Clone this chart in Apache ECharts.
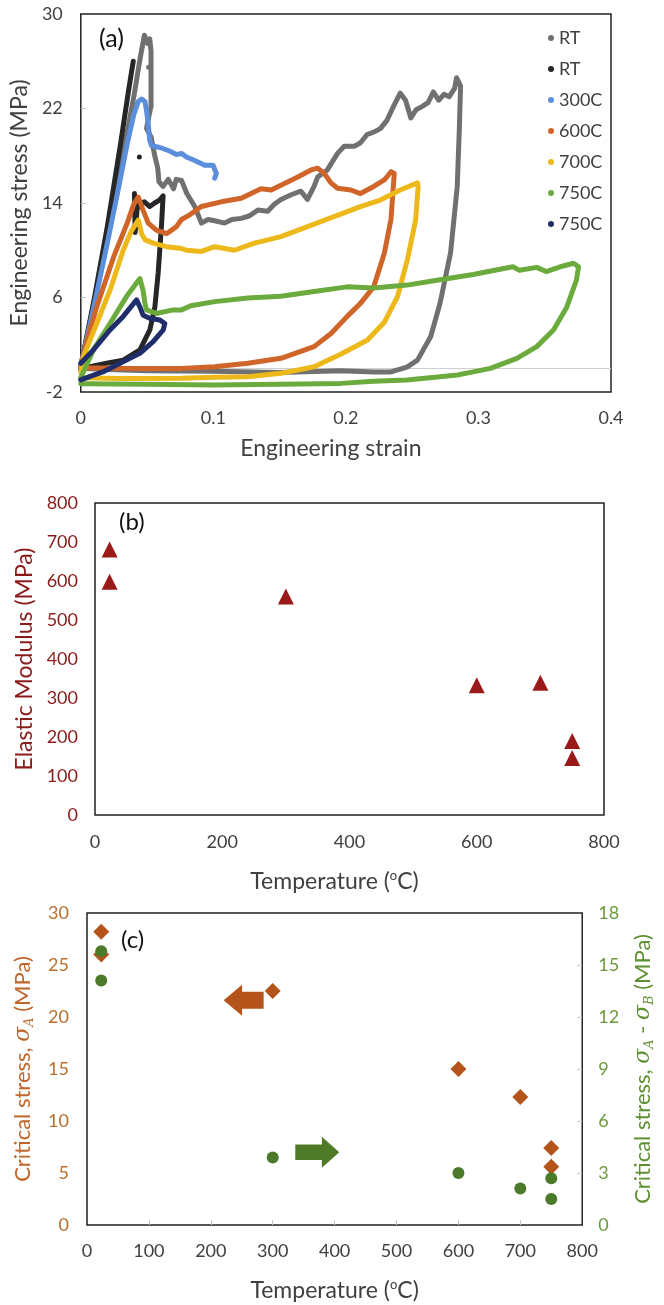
<!DOCTYPE html>
<html><head><meta charset="utf-8">
<script src="https://cdn.jsdelivr.net/npm/echarts@6/dist/echarts.min.js"></script>
<style>html,body{margin:0;padding:0;background:#fff}#c{width:664px;height:1305px}</style>
</head><body><div id="c"></div>
<script>
// ---------- Panel (a): stress-strain loops ----------
const strainTicks = [0, 0.1, 0.2, 0.3, 0.4];
const stressTicks = [-2, 6, 14, 22, 30];
const seriesNamesA = ['RT#1', 'RT#2', '300C', '600C', '700C', '750C#1', '750C#2'];
const rtGray = [[0,0.2],[0.01,5.6],[0.02,11.2],[0.03,17],[0.04,23],[0.045,26.4],[0.048,28.2],[0.0505,27.5],[0.052,27.9],[0.053,26.9],
  [0.053,22.2],[0.0515,21.4],[0.0496,20.3],[0.053,19.6],[0.056,17.9],[0.058,17.0],[0.059,15.8],[0.062,15.4],[0.066,16.0],[0.07,15.2],[0.072,16.0],[0.076,15.9],[0.08,14.8],[0.086,13.7],[0.091,12.3],[0.096,12.6],[0.101,12.5],[0.1085,12.3],[0.114,12.6],[0.121,12.7],[0.127,12.9],[0.1336,13.4],[0.141,13.3],[0.146,13.9],[0.151,14.3],[0.1587,14.7],[0.166,15.0],[0.171,14.3],[0.176,15.4],[0.1787,16.2],[0.186,16.8],[0.1937,18.2],[0.1987,18.8],[0.2063,18.8],[0.211,19.1],[0.216,19.8],[0.221,20.0],[0.226,20.3],[0.231,21.0],[0.236,22.2],[0.241,23.3],[0.245,22.7],[0.249,21.2],[0.253,21.9],[0.258,22.2],[0.262,22.5],[0.266,23.4],[0.27,22.7],[0.274,23.2],[0.278,23.0],[0.282,23.7],[0.2835,24.6],[0.2865,23.9],
  [0.2855,20],[0.284,15.4],[0.279,9.8],[0.271,5.5],[0.264,2.7],[0.254,0.7],[0.246,0.1],[0.234,-0.3],[0.221,-0.3],[0.196,-0.2],[0.15,-0.35],[0.1,-0.25],[0.05,-0.2],[0.02,-0.1],[0,0.0]];
const rtBlack = [[0,0.1],[0.01,5.8],[0.02,12],[0.03,19],[0.036,23.5],[0.0396,26.0],[0.04,'-'],
  [0.0405,14.8],[0.041,11.5],[0.0425,13.5],[0.0445,14.0],[0.048,14.1],[0.052,13.7],[0.0557,14.0],[0.0594,14.25],[0.0621,14.6],[0.061,12.3],[0.0584,8.1],[0.0559,5.2],[0.0521,3.25],[0.0446,1.56],[0.032,0.7],[0.0195,0.43],[0.007,0.14],[0,-0.1]];
const c300 = [[0,0.2],[0.01,5.3],[0.02,10.6],[0.028,15.0],[0.035,19.0],[0.04,21.5],[0.0434,22.6],[0.0459,22.8],[0.0484,22.6],[0.0496,21.8],[0.0509,20.7],[0.052,19.3],[0.0534,18.85],[0.0597,18.7],[0.067,18.4],[0.0722,18.1],[0.0759,18.2],[0.0797,17.9],[0.086,17.6],[0.0935,17.2],[0.0998,17.2],[0.1023,16.5],[0.101,16.1]];
const c600 = [[0,0.1],[0.005,2.5],[0.012,5.2],[0.025,9.5],[0.035,12.3],[0.04,13.9],[0.0434,14.5],[0.047,13.4],[0.0509,12.3],[0.057,11.7],[0.0647,11.4],[0.0722,12.0],[0.076,12.6],[0.0822,13.0],[0.091,13.7],[0.106,14.1],[0.121,14.4],[0.136,15.2],[0.1436,15.1],[0.151,15.5],[0.1637,16.2],[0.1737,16.8],[0.1787,16.95],[0.1837,16.5],[0.1887,15.7],[0.1937,15.25],[0.2038,15.1],[0.211,14.8],[0.221,15.4],[0.229,15.95],[0.234,16.65],[0.2365,16.5],
  [0.234,12.6],[0.229,9.75],[0.221,6.9],[0.211,5.5],[0.201,4.4],[0.189,2.97],[0.176,1.84],[0.151,0.85],[0.126,0.43],[0.101,0.14],[0.076,0.0],[0.04,0.0],[0,0.05]];
const c700 = [[0,-0.4],[0.002,1.0],[0.012,3.8],[0.022,6.6],[0.032,10.0],[0.038,11.6],[0.0434,12.55],[0.0459,11.4],[0.0484,10.9],[0.0546,10.6],[0.0647,10.3],[0.076,10.15],[0.0797,10.0],[0.091,9.9],[0.101,10.3],[0.116,10.0],[0.131,10.6],[0.151,11.15],[0.171,12.0],[0.191,12.85],[0.211,13.7],[0.226,14.25],[0.241,15.1],[0.254,15.7],[0.2545,15.4],
  [0.2526,12.55],[0.2464,9.2],[0.239,6.1],[0.229,3.9],[0.2163,2.4],[0.196,1.2],[0.176,0.14],[0.151,-0.42],[0.126,-0.7],[0.101,-0.75],[0.076,-0.84],[0.03,-0.85],[0,-0.8]];
const c750a = [[0,-0.8],[0.0095,1.56],[0.022,3.8],[0.0346,6.1],[0.0446,7.6],[0.047,6.6],[0.0484,5.5],[0.0496,4.95],[0.057,4.65],[0.0697,4.95],[0.076,4.95],[0.083,5.3],[0.101,5.65],[0.126,5.95],[0.151,6.1],[0.176,6.5],[0.201,6.9],[0.221,6.8],[0.246,7.05],[0.271,7.5],[0.296,7.95],[0.321,8.5],[0.326,8.6],[0.331,8.3],[0.344,8.55],[0.351,8.2],[0.3617,8.6],[0.3717,8.9],[0.3755,8.6],
  [0.374,7.5],[0.3667,5.2],[0.3566,3.25],[0.344,1.84],[0.329,0.85],[0.309,0.0],[0.296,-0.3],[0.284,-0.56],[0.271,-0.7],[0.246,-0.98],[0.221,-1.1],[0.196,-1.27],[0.15,-1.35],[0.1,-1.4],[0.05,-1.35],[0,-1.3]];
const c750b = [[0,0.43],[0.0095,1.56],[0.022,3.25],[0.032,4.4],[0.0421,5.8],[0.0446,5.2],[0.047,4.5],[0.052,4.25],[0.0597,4.1],[0.0634,3.8],[0.0622,3.25],[0.0546,2.26],[0.0446,1.27],[0.0296,0.43],[0.017,-0.28],[0,-0.98]];
const rtGrayStray = [[0.0512,25.5]];
const rtBlackStray = [[0.0442,17.9]];

// ---------- Panel (b): elastic modulus ----------
const tempTicksB = [0, 200, 400, 600, 800];
const modulusTicks = [0, 100, 200, 300, 400, 500, 600, 700, 800];
const tempsB = [23, 23, 300, 600, 700, 750, 750];
const modulus = [681, 598, 560, 333, 339, 190, 146];

// ---------- Panel (c): critical stresses ----------
const tempTicksC = [0, 100, 200, 300, 400, 500, 600, 700, 800];
const sigmaATicks = [0, 5, 10, 15, 20, 25, 30];
const sigmaABTicks = [0, 3, 6, 9, 12, 15, 18];
const tempsC = [23, 23, 300, 600, 700, 750, 750];
const sigmaA = [28.2, 26.0, 22.5, 15.0, 12.3, 7.4, 5.6];
const sigmaAB = [15.8, 14.1, 3.9, 3.0, 2.1, 2.7, 1.5];
const arrowLeftPos = [[253, 21.6]];   // points to left axis
const arrowRightPos = [[372, 7.0]];   // points to right axis

const FONT = "Lato, 'Noto Sans', sans-serif";
const colorsA = ['#707070', '#262626', '#5B8EDB', '#D0652A', '#EDB81A', '#6BAA3C', '#1F2D6B'];
const dataA = [rtGray, rtBlack, c300, c600, c700, c750a, c750b];

const chart = echarts.init(document.getElementById('c'), null, {renderer: 'canvas'});

const supRich = {sup: {fontSize: 13, lineHeight: 13, verticalAlign: 'top', fontFamily: FONT, color: '#404040'}};
const sigmaRich = (c) => ({
  s: {fontSize: 22, fontStyle: 'italic', fontFamily: "'DejaVu Serif', serif", color: c, lineHeight: 26},
  sub: {fontSize: 13, lineHeight: 14, verticalAlign: 'bottom', fontStyle: 'italic', fontFamily: "'DejaVu Serif', serif", color: c}
});

const seriesA = dataA.map((d, i) => ({
  name: seriesNamesA[i], type: 'line', xAxisIndex: 0, yAxisIndex: 0, data: d,
  showSymbol: false, symbol: 'circle', connectNulls: false, silent: true,
  lineStyle: {width: 5, color: colorsA[i], join: 'round', cap: 'round'},
  itemStyle: {color: colorsA[i]},
  markLine: i === 0 ? {silent: true, symbol: 'none', label: {show: false}, lineStyle: {color: '#cfcfcf', width: 1, type: 'solid'}, data: [{yAxis: 0}], z: 0} : undefined
}));

const option = {
  animation: false,
  backgroundColor: '#fff',
  textStyle: {fontFamily: FONT},
  title: [
    {text: '(a)', left: 94, top: 21, textStyle: {fontFamily: FONT, fontSize: 25, fontWeight: 'normal', color: '#111'}},
    {text: '(b)', left: 114, top: 505, textStyle: {fontFamily: FONT, fontSize: 24, fontWeight: 'normal', color: '#111'}},
    {text: '(c)', left: 116, top: 923, textStyle: {fontFamily: FONT, fontSize: 24, fontWeight: 'normal', color: '#111'}}
  ],
  legend: {
    data: seriesNamesA, orient: 'vertical', left: 543, top: 24, icon: 'circle',
    itemWidth: 6, itemHeight: 6, itemGap: 13,
    formatter: n => n.split('#')[0],
    textStyle: {fontFamily: FONT, fontSize: 18, lineHeight: 18, color: '#404040'}
  },
  grid: [
    {left: 79, top: 14, width: 532, height: 378, show: true, borderColor: '#222', borderWidth: 1.5},
    {left: 95, top: 503, width: 509, height: 312, show: true, borderColor: '#222', borderWidth: 1.5},
    {left: 87, top: 913, width: 514, height: 316, show: true, borderColor: '#222', borderWidth: 1.5}
  ],
  xAxis: [
    {type: 'value', gridIndex: 0, min: 0, max: 0.4, interval: 0.1,
     axisLine: {show: false}, axisTick: {show: false}, splitLine: {show: false},
     axisLabel: {customValues: strainTicks, fontSize: 18, color: '#404040', margin: 17, fontFamily: FONT},
     name: 'Engineering strain', nameLocation: 'middle', nameGap: 45,
     nameTextStyle: {fontSize: 23, color: '#404040', fontFamily: FONT, padding: [0, 30, 0, 0]}},
    {type: 'value', gridIndex: 1, min: 0, max: 800, interval: 200,
     axisLine: {show: false}, axisTick: {show: false}, splitLine: {show: false},
     axisLabel: {customValues: tempTicksB, fontSize: 18, color: '#404040', margin: 18, fontFamily: FONT},
     name: 'Temperature ({sup|o}C)', nameLocation: 'middle', nameGap: 54,
     nameTextStyle: {fontSize: 23, color: '#404040', fontFamily: FONT, lineHeight: 26, padding: [0, 30, 0, 0], rich: supRich}},
    {type: 'value', gridIndex: 2, min: 0, max: 800, interval: 100,
     axisLine: {show: false}, splitLine: {show: false},
     axisTick: {show: true, inside: true, length: 5, lineStyle: {color: '#c8c8c8'}, customValues: [100,200,300,400,500,600,700]},
     axisLabel: {customValues: tempTicksC, fontSize: 18, color: '#404040', margin: 17, fontFamily: FONT},
     name: 'Temperature ({sup|o}C)', nameLocation: 'middle', nameGap: 53,
     nameTextStyle: {fontSize: 23, color: '#404040', fontFamily: FONT, lineHeight: 26, rich: supRich}}
  ],
  yAxis: [
    {type: 'value', gridIndex: 0, min: -2, max: 30,
     axisLine: {show: false}, splitLine: {show: false},
     axisTick: {show: true, inside: true, length: 5, lineStyle: {color: '#bbbbbb'}, customValues: [6, 14, 22]},
     axisLabel: {customValues: stressTicks, fontSize: 18, color: '#404040', margin: 18, fontFamily: FONT},
     name: 'Engineering stress (MPa)', nameLocation: 'middle', nameGap: 46, nameRotate: 90,
     nameTextStyle: {fontSize: 23, color: '#404040', fontFamily: FONT}},
    {type: 'value', gridIndex: 1, min: 0, max: 800, interval: 100,
     axisLine: {show: false}, axisTick: {show: false}, splitLine: {show: false},
     axisLabel: {customValues: modulusTicks, fontSize: 18, color: '#8B1A1A', margin: 17, fontFamily: FONT},
     name: 'Elastic Modulus (MPa)', nameLocation: 'middle', nameGap: 59, nameRotate: 90,
     nameTextStyle: {fontSize: 23, color: '#8B1A1A', fontFamily: FONT}},
    {type: 'value', gridIndex: 2, min: 0, max: 30, interval: 5, position: 'left',
     axisLine: {show: false}, axisTick: {show: false}, splitLine: {show: false},
     axisLabel: {customValues: sigmaATicks, fontSize: 18, color: '#B8702E', margin: 18, fontFamily: FONT},
     name: 'Critical stress, {s|σ}{sub|A} (MPa)', nameLocation: 'middle', nameGap: 51, nameRotate: 90,
     nameTextStyle: {fontSize: 22, color: '#C0652A', fontFamily: FONT, lineHeight: 26, rich: sigmaRich('#C0652A')}},
    {type: 'value', gridIndex: 2, min: 0, max: 18, interval: 3, position: 'right',
     axisLine: {show: false}, splitLine: {show: false},
     axisTick: {show: true, inside: true, length: 5, lineStyle: {color: '#c8c8c8'}, customValues: [3,6,9,12,15]},
     axisLabel: {customValues: sigmaABTicks, fontSize: 18, color: '#6B9A3E', margin: 16, fontFamily: FONT},
     name: 'Critical stress, {s|σ}{sub|A} - {s|σ}{sub|B} (MPa)', nameLocation: 'middle', nameGap: 42, nameRotate: 90,
     nameTextStyle: {fontSize: 22, color: '#5E8F33', fontFamily: FONT, lineHeight: 26, rich: sigmaRich('#5E8F33')}}
  ],
  series: [
    ...seriesA,
    {type: 'scatter', xAxisIndex: 0, yAxisIndex: 0, data: rtGrayStray, symbolSize: 5, itemStyle: {color: colorsA[0], opacity: 1}, silent: true},
    {type: 'scatter', xAxisIndex: 0, yAxisIndex: 0, data: rtBlackStray, symbolSize: 5, itemStyle: {color: colorsA[1], opacity: 1}, silent: true},
    {type: 'scatter', xAxisIndex: 1, yAxisIndex: 1, data: tempsB.map((t, i) => [t, modulus[i]]),
     symbol: 'triangle', symbolSize: 16, itemStyle: {color: '#9A1A1A', opacity: 1}, silent: true},
    {type: 'scatter', xAxisIndex: 2, yAxisIndex: 2, data: tempsC.map((t, i) => [t, sigmaA[i]]),
     symbol: 'diamond', symbolSize: 16, itemStyle: {color: '#B5541A', opacity: 1}, silent: true},
    {type: 'scatter', xAxisIndex: 2, yAxisIndex: 3, data: tempsC.map((t, i) => [t, sigmaAB[i]]),
     symbol: 'circle', symbolSize: 12, itemStyle: {color: '#4B7A2A', opacity: 1}, silent: true},
    {type: 'scatter', xAxisIndex: 2, yAxisIndex: 2, data: arrowLeftPos,
     symbol: 'path://M0,15.5 L18,0 L18,7 L39,7 L39,24 L18,24 L18,31 Z', symbolSize: [40, 31], itemStyle: {color: '#B5541A', opacity: 1}, silent: true},
    {type: 'scatter', xAxisIndex: 2, yAxisIndex: 2, data: arrowRightPos,
     symbol: 'path://M0,7.5 L26,7.5 L26,0 L43,15 L26,30 L26,22.5 L0,22.5 Z', symbolSize: [44, 31], itemStyle: {color: '#4F7A28', opacity: 1}, silent: true}
  ]
};
chart.setOption(option);
</script>
</body></html>
